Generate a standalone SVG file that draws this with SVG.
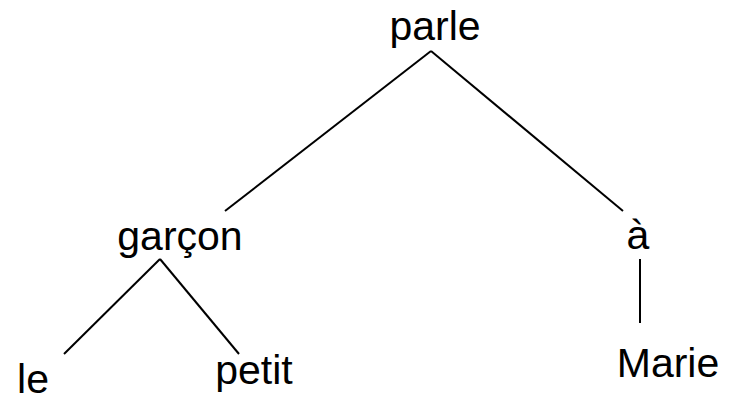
<svg xmlns="http://www.w3.org/2000/svg" width="730" height="403" viewBox="0 0 730 403">
<style>
.t{font-family:"Liberation Sans",Arial,sans-serif;font-size:41px;fill:#000;text-anchor:middle}
.e{stroke:#000;stroke-width:2;fill:none}
</style>
<rect width="730" height="403" fill="#fff"/>
<g id="connectors">
<line class="e" x1="431" y1="51" x2="225" y2="211"/>
<line class="e" x1="431" y1="51" x2="623" y2="211"/>
<line class="e" x1="160" y1="259" x2="64" y2="354"/>
<line class="e" x1="160" y1="259" x2="239" y2="354"/>
<line class="e" x1="640" y1="259" x2="640" y2="323"/>
</g>
<g id="parle"><text class="t" x="435" y="40">parle</text></g>
<g id="garcon"><text class="t" x="180" y="250">garçon</text></g>
<g id="a"><text class="t" x="638" y="249">à</text></g>
<g id="le"><text class="t" x="33" y="393">le</text></g>
<g id="petit"><text class="t" x="254" y="384">petit</text></g>
<g id="Marie"><text class="t" x="668" y="377">Marie</text></g>
</svg>
